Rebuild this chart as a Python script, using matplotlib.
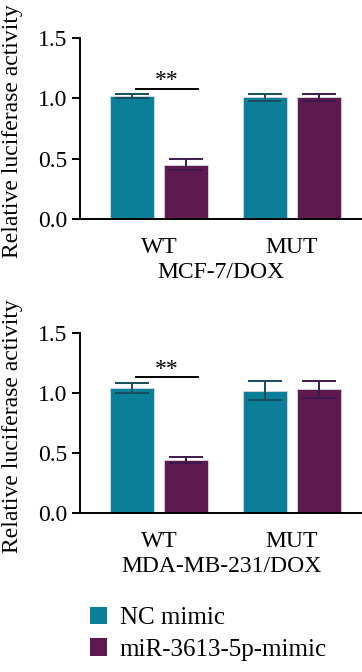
import matplotlib.pyplot as plt
import numpy as np
from matplotlib.patches import Patch

plt.rcParams['font.family'] = ['Liberation Serif', 'DejaVu Serif']

groups = ["WT", "MUT"]
series = ["NC mimic", "miR-3613-5p-mimic"]
colors = ["#0b7f97", "#5e194f"]
err_colors = ["#164d5e", "#3b1a4f"]

# panel 1: MCF-7/DOX
mcf_nc = [1.02, 1.01]
mcf_nc_err = [0.02, 0.03]
mcf_mir = [0.45, 1.01]
mcf_mir_err = [0.045, 0.03]

# panel 2: MDA-MB-231/DOX
mda_nc = [1.04, 1.02]
mda_nc_err = [0.04, 0.08]
mda_mir = [0.44, 1.03]
mda_mir_err = [0.025, 0.07]

panels = [
    ("MCF-7/DOX", mcf_nc, mcf_nc_err, mcf_mir, mcf_mir_err, 1.077, -0.215),
    ("MDA-MB-231/DOX", mda_nc, mda_nc_err, mda_mir, mda_mir_err, 1.13, -0.222),
]

fs = 17
fig = plt.figure(figsize=(3.62, 6.72), dpi=100)
axes_pos = [[0.221, 0.674, 0.779, 0.2695], [0.221, 0.2366, 0.779, 0.268]]

x = np.arange(len(groups))
w = 0.33
off = 0.2
for pos, (title, nc, nce, mir, mire, sig_y, lab_y) in zip(axes_pos, panels):
    ax = fig.add_axes(pos)
    for i, (vals, errs) in enumerate([(nc, nce), (mir, mire)]):
        xs = x + (-off if i == 0 else off)
        ax.bar(xs, vals, width=w, color=colors[i], edgecolor="#d8d8e0",
               linewidth=0.6, zorder=2)
        ax.errorbar(xs, vals, yerr=errs, fmt="none", ecolor=err_colors[i],
                    elinewidth=1.4, capsize=12, capthick=1.4, zorder=3)
    ax.plot([-0.17, 0.29], [sig_y, sig_y], color="black", lw=1.4, clip_on=False)
    ax.text(0.06, sig_y - 0.02, "**", ha="center", va="bottom", fontsize=fs)
    ax.set_xlim(-0.594, 1.526)
    ax.set_ylim(0, 1.5)
    ax.set_yticks([0, 0.5, 1.0, 1.5])
    ax.set_yticklabels(["0.0", "0.5", "1.0", "1.5"])
    ax.set_xticks(x)
    ax.set_xticklabels(groups)
    ax.set_xlabel(title, fontsize=fs, labelpad=3)
    ax.set_ylabel("Relative luciferase activity", fontsize=fs)
    ax.yaxis.label.set_ha("left")
    ax.yaxis.set_label_coords(-0.202, lab_y)
    ax.tick_params(axis="y", length=6, width=1.4, labelsize=fs, pad=3)
    ax.tick_params(axis="x", length=0, labelsize=fs, pad=13)
    for s in ["top", "right"]:
        ax.spines[s].set_visible(False)
    for s in ["left", "bottom"]:
        ax.spines[s].set_linewidth(1.4)

handles = [Patch(facecolor=c, edgecolor="none") for c in colors]
fig.legend(handles, series, loc="center left", bbox_to_anchor=(0.248, 0.057),
           frameon=False, fontsize=18, handlelength=0.7, handleheight=0.7,
           handletextpad=0.5, labelspacing=0.35, borderaxespad=0, borderpad=0)

fig.savefig("out.png", dpi=100)
